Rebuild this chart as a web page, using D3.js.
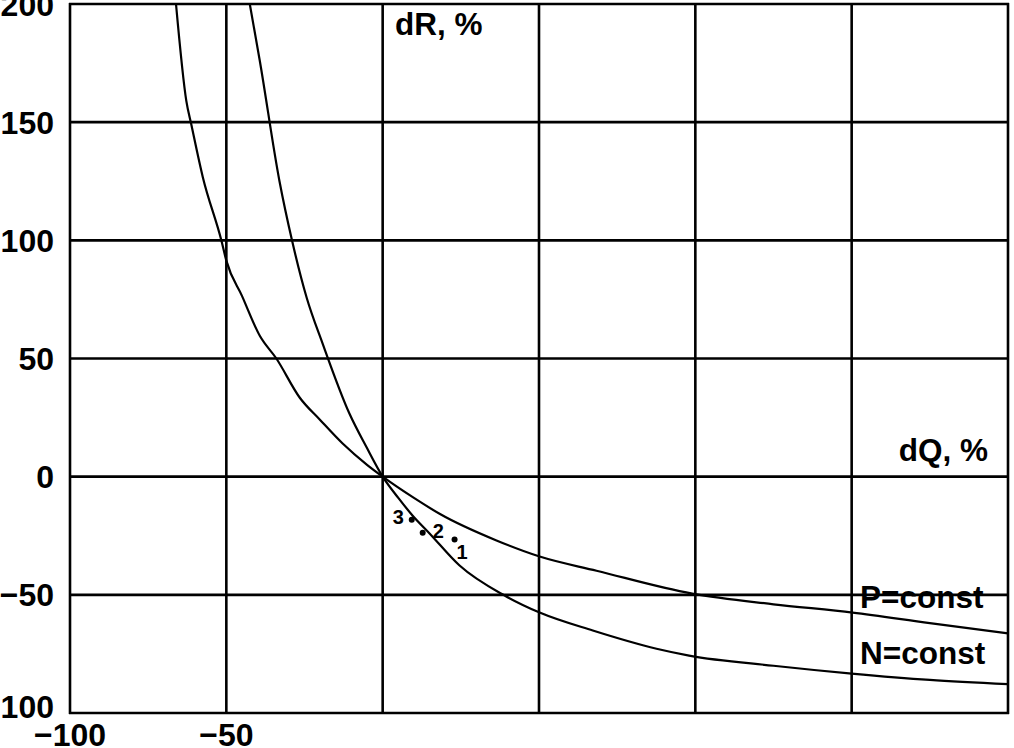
<!DOCTYPE html>
<html><head><meta charset="utf-8">
<script src="https://cdn.jsdelivr.net/npm/d3@7"></script>
<style>
html,body{margin:0;padding:0;background:#fff;}
svg text{font-family:"Liberation Sans",Arial,sans-serif;font-weight:bold;fill:#000;}
</style></head><body>
<svg id="c" width="1014" height="748"></svg>
<script>
// data
const xTicks = [-100, -50, 0, 50, 100, 150, 200];
const yTicks = [200, 150, 100, 50, 0, -50, -100];
const xTickLabels = ["−100", "−50"];
const yTickLabels = ["200", "150", "100", "50", "0", "−50", "100"];
const pConstQ = [-66.1, -62.8, -61.2, -57.5, -51.6, -50, -45, -39.3, -34, -26.5, -20, -12.8, -5, 0, 10, 18.2, 36.4, 50.2, 68.4, 99, 125, 150.3, 175, 200];
const pConstR = [200, 159, 149, 126.6, 100, 91.4, 76.5, 59.6, 50, 33.4, 24, 14, 5, 0, -9, -15.7, -27, -33.8, -39.8, -49.5, -54, -57.5, -62, -66.3];
const nConstQ = [-42.5, -39.3, -33, -29, -24.3, -19.2, -10.6, -5.1, 0, 5, 9.6, 15, 24.6, 39, 50.2, 67.2, 87.6, 98, 125, 150, 175, 200];
const nConstR = [200, 176, 125, 100, 75.7, 56.3, 26.6, 12.3, 0, -9, -16.5, -24, -37.6, -50.3, -57.5, -65.1, -72.8, -75.7, -80, -83.3, -86, -87.8];
const pointQ = [23, 12.8, 9.3];
const pointR = [-26.6, -23.7, -18.2];
const pointLabels = ["1", "2", "3"];
const seriesNames = ["P=const", "N=const"];
const axisNames = ["dR, %", "dQ, %"];

const svg = d3.select("#c");
const x = d3.scaleLinear().domain([-100, 200]).range([70, 1008]);
const y = d3.scaleLinear().domain([-100, 200]).range([713, 4]);

svg.append("defs").append("clipPath").attr("id", "clip")
  .append("rect").attr("x", 70).attr("y", 4).attr("width", 938).attr("height", 709);

const g = svg.append("g");
// grid
g.selectAll("line.v").data(xTicks).join("line")
  .attr("x1", d => x(d)).attr("x2", d => x(d)).attr("y1", y(200) - 1).attr("y2", y(-100) + 1)
  .attr("stroke", "#000").attr("stroke-width", 2.6);
g.selectAll("line.h").data(yTicks).join("line")
  .attr("y1", d => y(d)).attr("y2", d => y(d)).attr("x1", x(-100) - 1).attr("x2", x(200) + 1)
  .attr("stroke", "#000").attr("stroke-width", 2.6);

// y tick labels
g.selectAll("text.yl").data(yTicks).join("text")
  .attr("x", 54).attr("y", d => y(d) - (d === -100 ? 7 : 0)).attr("dy", "0.36em")
  .attr("text-anchor", "end").attr("font-size", 32)
  .text((d, i) => yTickLabels[i]);
// x tick labels
g.selectAll("text.xl").data(xTickLabels).join("text")
  .attr("x", (d, i) => x(xTicks[i])).attr("y", 746)
  .attr("text-anchor", "middle").attr("font-size", 32)
  .text(d => d);

// curves
const line = d3.line().x(d => x(d[0])).y(d => y(d[1])).curve(d3.curveMonotoneX);
const cg = g.append("g").attr("clip-path", "url(#clip)");
cg.append("path").datum(pConstQ.map((q, i) => [q, pConstR[i]]))
  .attr("d", line).attr("fill", "none").attr("stroke", "#000").attr("stroke-width", 2.2);
cg.append("path").datum(nConstQ.map((q, i) => [q, nConstR[i]]))
  .attr("d", line).attr("fill", "none").attr("stroke", "#000").attr("stroke-width", 2.2);

// points
g.selectAll("circle.p").data(pointQ).join("circle")
  .attr("cx", d => x(d)).attr("cy", (d, i) => y(pointR[i])).attr("r", 3).attr("fill", "#000");
const lblOff = [[2, 19], [10, 5], [-19, 4]];
g.selectAll("text.pl").data(pointLabels).join("text")
  .attr("x", (d, i) => x(pointQ[i]) + lblOff[i][0])
  .attr("y", (d, i) => y(pointR[i]) + lblOff[i][1])
  .attr("font-size", 20).text(d => d);

// annotations
g.append("text").attr("x", 395).attr("y", 35).attr("font-size", 31.5).text(axisNames[0]);
g.append("text").attr("x", 988).attr("y", 461).attr("text-anchor", "end").attr("font-size", 31.5).text(axisNames[1]);
g.append("text").attr("x", 860).attr("y", 608).attr("font-size", 31.5).text(seriesNames[0]);
g.append("text").attr("x", 860).attr("y", 664).attr("font-size", 31.5).text(seriesNames[1]);
</script>
</body></html>
